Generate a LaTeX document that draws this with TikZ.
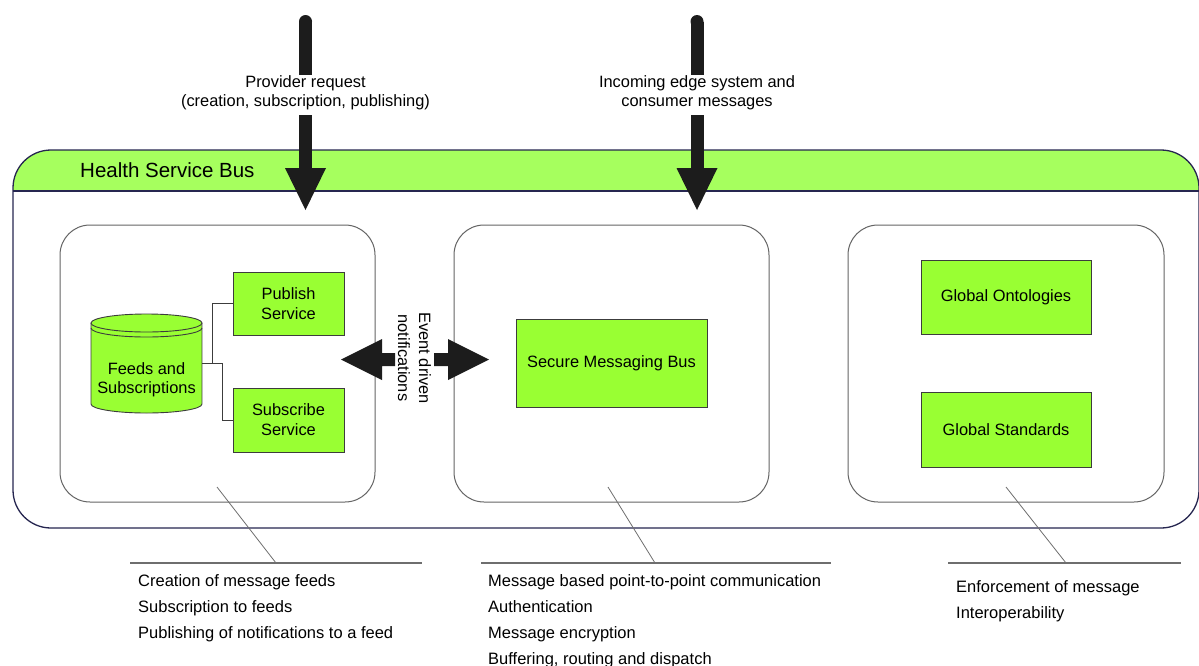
\documentclass[tikz,border=0pt]{standalone}
\usepackage{fontspec}
\setmainfont{Liberation Sans}
\definecolor{busline}{RGB}{38,38,80}
\definecolor{headgreen}{RGB}{166,255,94}
\definecolor{boxgreen}{RGB}{153,255,51}
\definecolor{boxline}{RGB}{60,60,60}
\definecolor{panelline}{RGB}{100,100,100}
\definecolor{arrowfill}{RGB}{28,28,28}
\definecolor{noteline}{RGB}{110,110,110}
\begin{document}
\begin{tikzpicture}[x=1pt,y=-1pt,
  txt/.style={font=\fontsize{16.4}{19.5}\selectfont, inner sep=0pt, align=center},
  greenbox/.style={draw=boxline, fill=boxgreen, line width=0.9pt, inner sep=0pt,
    align=center, font=\fontsize{16.4}{20}\selectfont},
  panel/.style={draw=panelline, line width=1pt, rounded corners=30pt},
  link/.style={draw=boxline, line width=0.8pt},
  shaft/.style={draw=arrowfill, line width=13pt},
  bigarrow/.style={fill=arrowfill},
  noteline/.style={draw=noteline, line width=0.8pt},
  notebar/.style={draw=noteline, line width=1.2pt},
  note/.style={font=\fontsize{16.5}{26}\selectfont, inner sep=0pt, anchor=base west}]
\useasboundingbox (0,0) rectangle (1199,665);

% Health Service Bus container with green header band
\fill[white, rounded corners=38pt] (13,150) rectangle (1199,528);
\begin{scope}
  \clip[rounded corners=38pt] (13,150) rectangle (1199,528);
  \fill[headgreen] (13,150) rectangle (1199,191);
\end{scope}
\draw[busline, line width=1.3pt] (13,191) -- (1199,191);
\draw[busline, line width=1.3pt, rounded corners=38pt] (13,150) rectangle (1199,528);
\node[font=\fontsize{20.5}{24}\selectfont, inner sep=0pt, anchor=base west] (hsb) at (80,177) {Health Service Bus};

% three panels
\draw[panel] (60,225) rectangle (375,502);
\draw[panel] (454,225) rectangle (769,502);
\draw[panel] (848,225) rectangle (1164,502);

% feeds store (cylinder); arc radii are absolute, so angles 180..360 run along the lower side
\fill[boxgreen] (91,323) rectangle (202,404);
\fill[boxgreen] (146.5,404) ellipse (55.5pt and 9pt);
\draw[boxline, line width=0.9pt] (91,323) -- (91,404) arc (180:360:55.5pt and 9pt) -- (202,323);
\draw[boxline, line width=0.9pt, fill=boxgreen] (146.5,323) ellipse (55.5pt and 9pt);
\draw[boxline, line width=0.9pt] (202,328) arc (0:-180:55.5pt and 9pt);
\node[txt] (feeds) at (146.5,380) {Feeds and\\Subscriptions};
\coordinate (feedsport) at (202,363.5);

\node[greenbox, minimum width=111pt, minimum height=63pt] (publish) at (288.5,303.5) {Publish\\Service};
\node[greenbox, minimum width=111pt, minimum height=64pt] (subscribe) at (288.5,420) {Subscribe\\Service};
\draw[link] (feedsport) -- ++(10,0) |- (publish.west);
\draw[link] (feedsport) -- ++(20,0) |- (subscribe.west);

\node[greenbox, minimum width=191pt, minimum height=88pt] (smb) at (611.5,363) {Secure Messaging Bus};
\node[greenbox, minimum width=170pt, minimum height=74pt] (onto) at (1006,297) {Global Ontologies};
\node[greenbox, minimum width=170pt, minimum height=75pt] (std) at (1006,429.5) {Global Standards};

% event driven notifications (two-headed block arrows)
\node[txt, rotate=-90, font=\fontsize{16.4}{21}\selectfont] (evt) at (414.5,358) {Event driven\\notifications};
\coordinate (evL) at (341,359.5);
\coordinate (evR) at (489,359.5);
\fill[bigarrow] (evL) -- ++(41,-20.5) -- ++(0,14) -- ++(13,0) -- ++(0,13) -- ++(-13,0) -- ++(0,14) -- cycle;
\fill[bigarrow] (evR) -- ++(-41,-20.5) -- ++(0,14) -- ++(-14,0) -- ++(0,13) -- ++(14,0) -- ++(0,14) -- cycle;

% incoming requests from above
\node[txt] (prov) at (305.5,93) {Provider request\\(creation, subscription, publishing)};
\node[txt] (edge) at (697,93) {Incoming edge system and\\consumer messages};
\coordinate (provTop) at (305.5,21.5);
\coordinate (edgeTop) at (697,21.5);
\coordinate (provTip) at (305.5,210);
\coordinate (edgeTip) at (697,210);
\foreach \t/\l/\p in {provTop/prov/provTip, edgeTop/edge/edgeTip}{
  \fill[arrowfill] (\t) circle (6.5pt);
  \draw[shaft] (\t) -- (\t |- 0,75);
  \draw[shaft] (\t |- 0,115) -- (\t |- 0,168.5);
  \fill[bigarrow] (\p) -- ++(-20.5,-42) -- ++(41,0) -- cycle;
}

% annotations below the bus
\coordinate (n1a) at (217,487); \coordinate (n1b) at (276,563);
\coordinate (n2a) at (608,487); \coordinate (n2b) at (655,563);
\coordinate (n3a) at (1006,487); \coordinate (n3b) at (1066,563);
\draw[noteline] (n1a) -- (n1b);
\draw[noteline] (n2a) -- (n2b);
\draw[noteline] (n3a) -- (n3b);
\draw[notebar] (130,563) -- (422,563);
\draw[notebar] (481,563) -- (831,563);
\draw[notebar] (948,563) -- (1181,563);

\node[note] (l1) at (138,586) {Creation of message feeds};
\node[note] (l2) at (138,612) {Subscription to feeds};
\node[note] (l3) at (138,638) {Publishing of notifications to a feed};
\node[note] (m1) at (488,586) {Message based point-to-point communication};
\node[note] (m2) at (488,612) {Authentication};
\node[note] (m3) at (488,638) {Message encryption};
\node[note] (m4) at (488,664) {Buffering, routing and dispatch};
\node[note] (r1) at (956,592) {Enforcement of message};
\node[note] (r2) at (956,618) {Interoperability};
\end{tikzpicture}
\end{document}
